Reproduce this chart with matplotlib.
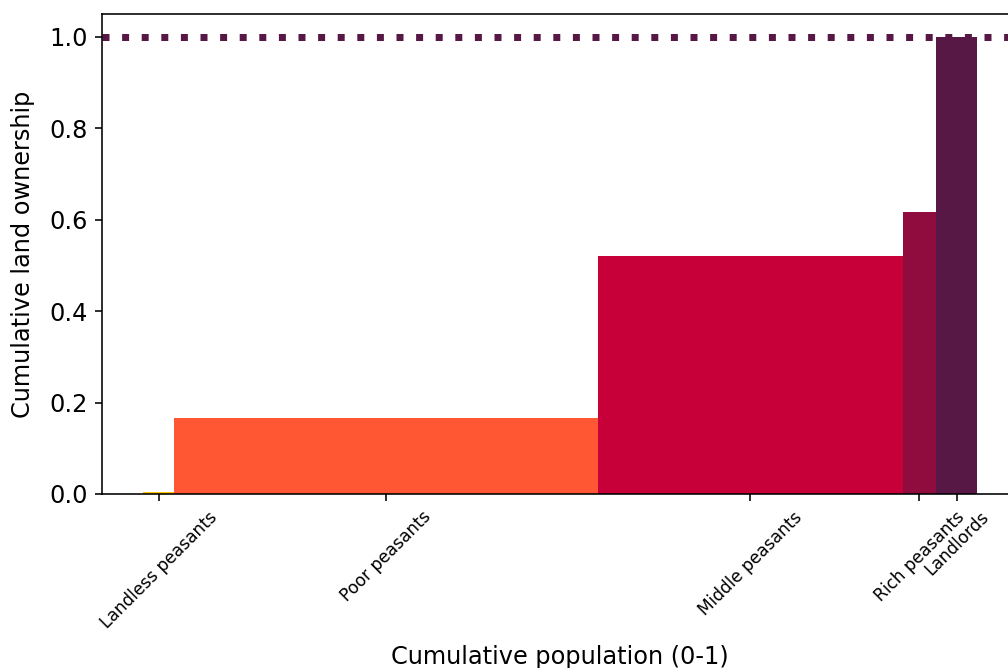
import matplotlib
matplotlib.use("Agg")
import matplotlib.pyplot as plt
import numpy as np

# groups, population shares and cumulative land ownership
groups = ["Landless peasants", "Poor peasants", "Middle peasants", "Rich peasants", "Landlords"]
pop_share = [0.037, 0.508, 0.366, 0.040, 0.049]
cum_land = [0.004, 0.166, 0.521, 0.617, 1.0]
colors = ["#FFC300", "#FF5733", "#C70039", "#900C3F", "#581845"]

pop_share = np.array(pop_share)
left = np.concatenate([[0], np.cumsum(pop_share)[:-1]])
centers = left + pop_share / 2

plt.rcParams["font.size"] = 12

fig = plt.figure(figsize=(7, 668 / 144), dpi=144)
ax = fig.add_axes([0.1009, 0.2605, 0.9097, 0.7185])

ax.bar(left, cum_land, width=pop_share, align="edge", color=colors)
ax.axhline(1.0, color=colors[-1], linewidth=3.5, dashes=(1, 1.8))

ax.set_xlim(-0.05, 1.05)
ax.set_ylim(0, 1.05)
ax.set_xticks(centers)
ax.set_xticklabels(groups, rotation=45, fontsize=8.5)
ax.set_xlabel("Cumulative population (0-1)", labelpad=6.5)
ax.set_ylabel("Cumulative land ownership", labelpad=7)

fig.savefig("out.png", dpi=144)
